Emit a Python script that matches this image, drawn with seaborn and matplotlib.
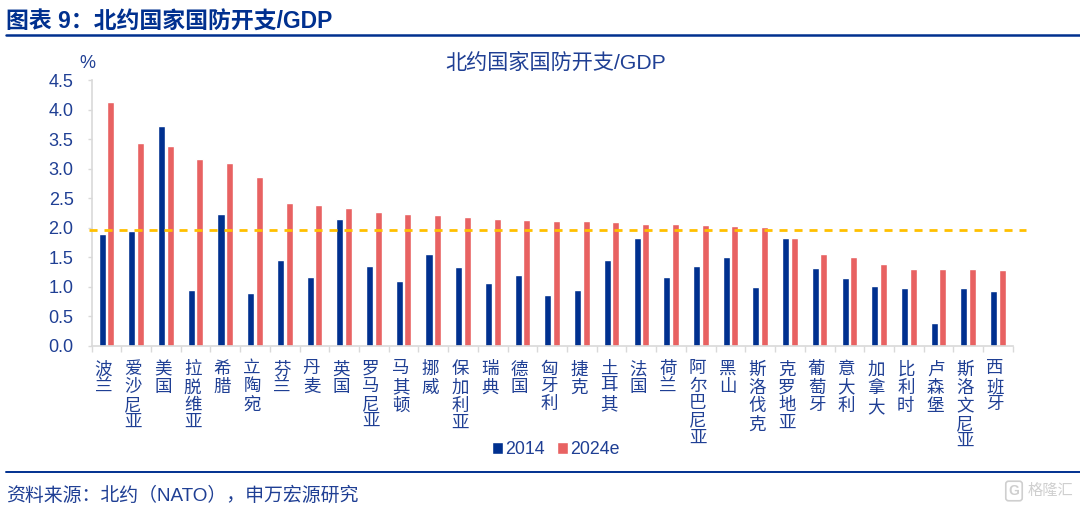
import pandas as pd
import matplotlib
matplotlib.use("Agg")
import matplotlib.pyplot as plt
import matplotlib.transforms as mtransforms
import seaborn as sns
from matplotlib.lines import Line2D

sns.set_theme(style="white")
plt.rcParams['font.family'] = ['Liberation Sans', 'Noto Sans CJK SC']

# data
countries = ["波兰", "爱沙尼亚", "美国", "拉脱维亚", "希腊", "立陶宛", "芬兰", "丹麦", "英国", "罗马尼亚",
             "马其顿", "挪威", "保加利亚", "瑞典", "德国", "匈牙利", "捷克", "土耳其", "法国", "荷兰",
             "阿尔巴尼亚", "黑山", "斯洛伐克", "克罗地亚", "葡萄牙", "意大利", "加拿大", "比利时", "卢森堡",
             "斯洛文尼亚", "西班牙"]
values_2014 = [1.89, 1.94, 3.72, 0.95, 2.23, 0.89, 1.46, 1.16, 2.15, 1.36, 1.10, 1.55, 1.33, 1.07, 1.20, 0.87,
               0.95, 1.46, 1.83, 1.16, 1.36, 1.51, 0.99, 1.82, 1.32, 1.15, 1.02, 0.98, 0.39, 0.98, 0.93]
values_2024 = [4.13, 3.44, 3.39, 3.16, 3.09, 2.86, 2.42, 2.38, 2.34, 2.26, 2.23, 2.21, 2.19, 2.15, 2.13, 2.12,
               2.11, 2.10, 2.07, 2.06, 2.04, 2.03, 2.01, 1.82, 1.56, 1.50, 1.38, 1.31, 1.30, 1.30, 1.29]
series_names = ["2014", "2024e"]
target_line = 1.97
y_ticks = [0.0, 0.5, 1.0, 1.5, 2.0, 2.5, 3.0, 3.5, 4.0, 4.5]

NAVY = "#00308F"
TEXT = "#1F3F94"
RED = "#E86262"
GOLD = "#FFC000"
GREY = "#D9D9D9"

df = pd.DataFrame({
    "country": countries * 2,
    "value": values_2014 + values_2024,
    "series": [series_names[0]] * len(countries) + [series_names[1]] * len(countries),
})

W, H = 1080, 509
fig = plt.figure(figsize=(W / 100, H / 100), dpi=100, facecolor="white")
ax = fig.add_axes([91.6 / W, 1 - 346 / H, (1012.8 - 91.6) / W, (346 - 80) / H])

sns.barplot(data=df, x="country", y="value", hue="series", order=countries, hue_order=series_names,
            palette=[NAVY, RED], width=0.58, gap=0.18, saturation=1, legend=True, ax=ax)

ax.set_xlim(-0.5, len(countries) - 0.5)
ax.set_ylim(0, 4.5)
ax.set_xlabel("")
ax.set_ylabel("")

# reference line runs a little past the axis on both sides
ax.hlines(target_line, -0.6, len(countries) - 0.07, colors=GOLD, linestyles=(0, (2.9, 2.5)), linewidth=2,
          clip_on=False, zorder=5)

# y axis
ax.set_yticks(y_ticks)
ax.set_yticklabels([f"{v:.1f}" for v in y_ticks], fontsize=13, color=TEXT)
ax.tick_params(axis="y", length=3, width=1, color=GREY, pad=10, left=True)

# x axis: ticks between the categories, labels written top to bottom
ax.set_xticks(range(len(countries)))
ax.set_xticklabels(["\n".join(c) for c in countries], fontsize=12.6, color=TEXT, linespacing=1.17, va="top")
ax.tick_params(axis="x", which="major", length=0, pad=11, bottom=False)
ax.set_xticks([i - 0.5 for i in range(len(countries) + 1)], minor=True)
ax.tick_params(axis="x", which="minor", length=4, width=1, color=GREY, bottom=True)
shift = mtransforms.ScaledTranslation(-3 / 100, 0, fig.dpi_scale_trans)
for label in ax.get_xticklabels():
    label.set_transform(label.get_transform() + shift)

for side in ["top", "right"]:
    ax.spines[side].set_visible(False)
for side in ["left", "bottom"]:
    ax.spines[side].set_color(GREY)
    ax.spines[side].set_linewidth(1.2)

ax.legend(loc="center", bbox_to_anchor=(556 / W, 1 - 450 / H), bbox_transform=fig.transFigure, ncol=2,
          frameon=False, fontsize=12.8, labelcolor=TEXT, handlelength=0.62, handleheight=0.62, handletextpad=0.1,
          columnspacing=0.7)

# header, footer and the text around the plot
fig.text(6 / W, 1 - 22 / H, "图表 9：北约国家国防开支/GDP", fontsize=16.5, fontweight="bold", color=NAVY, va="center")
fig.add_artist(Line2D([6 / W, 1], [1 - 34.5 / H] * 2, color=NAVY, linewidth=1.8))
fig.text(556 / W, 1 - 63 / H, "北约国家国防开支/GDP", fontsize=15.2, color=TEXT, ha="center", va="center")
fig.text(87 / W, 1 - 64 / H, "%", fontsize=13, color=TEXT, ha="center", va="center")
fig.add_artist(Line2D([6 / W, 1], [1 - 471.5 / H] * 2, color=NAVY, linewidth=1.4))
fig.text(6 / W, 1 - 495.5 / H, "资料来源：北约（NATO），申万宏源研究", fontsize=13.6, color=TEXT, va="center")

# watermark in the corner
fig.text(1073 / W, 1 - 491 / H, "格隆汇", fontsize=11, color="#CFCFCF", ha="right", va="center")
fig.text(1014 / W, 1 - 491 / H, "G", fontsize=10, fontweight="bold", color="#CFCFCF", ha="center", va="center",
         bbox=dict(boxstyle="round,pad=0.2", fc="white", ec="#CFCFCF", lw=1.2))

fig.savefig("out.png", dpi=100)
